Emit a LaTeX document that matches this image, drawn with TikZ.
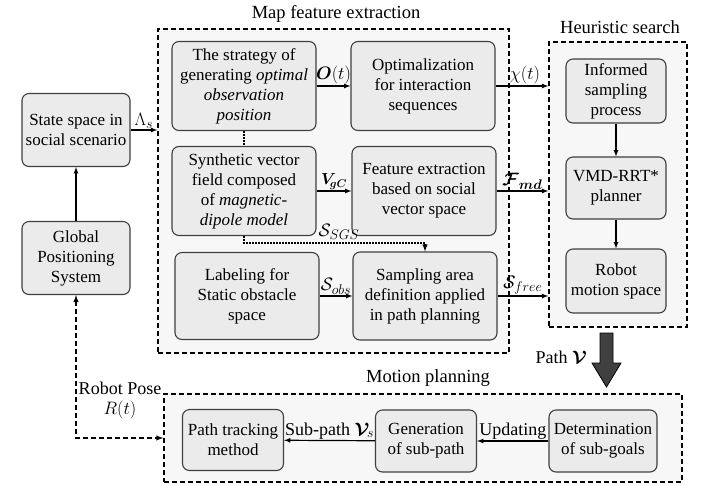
\RequirePackage{fix-cm}
\documentclass[tikz,border=0pt]{standalone}
\usepackage{fontspec}
\setmainfont{Liberation Serif}
\usepackage{amsmath}
\usepackage{amssymb}
\usepackage{bm}
\DeclareMathSizes{18}{18}{14}{11}
\usetikzlibrary{arrows, calc, positioning}

\tikzset{
  block/.style={draw=black!75, line width=1.1pt, rounded corners=7pt, fill=black!8,
    align=center, inner sep=2pt, font=\fontsize{17}{20}\selectfont},
  big/.style={block, minimum width=144pt, minimum height=89pt},
  mid/.style={block, minimum width=108pt, minimum height=73pt},
  small/.style={block, minimum width=100pt, minimum height=64pt},
  group/.style={draw=black, line width=1.4pt, dash pattern=on 5pt off 3pt, fill=black!3},
  heading/.style={font=\fontsize{18.5}{22}\selectfont},
  tag/.style={font=\fontsize{18}{20}\selectfont, inner sep=1pt},
  flow/.style={->, >=latex, line width=1.2pt},
}

\begin{document}
\begin{tikzpicture}[x=1pt, y=-1pt]
  \useasboundingbox (0,0) rectangle (706,485);

  % dashed groups
  \node[group, minimum width=351pt, minimum height=324pt] (map) at (333.5,191) {};
  \node[group, minimum width=138pt, minimum height=285pt] (heur) at (618,184.5) {};
  \node[group, minimum width=518pt, minimum height=88pt] (motion) at (423,438) {};
  \node[heading] (maptitle) at (336,14) {Map feature extraction};
  \node[heading] (heurtitle) at (620,27) {Heuristic search};
  \node[heading] (motiontitle) at (428,378) {Motion planning};

  % left column
  \node[mid] (state) at (76,130) {State space in\\social scenario};
  \node[mid] (gps) at (76,258) {Global\\Positioning\\System};

  % map feature extraction
  \node[big] (strat) at (244,86) {The strategy of\\generating \textit{optimal}\\\textit{observation}\\\textit{position}};
  \node[big] (synth) at (244,191) {Synthetic vector\\field composed\\of \textit{magnetic-}\\\textit{dipole model}};
  \node[big, minimum height=87pt] (label) at (247,296) {Labeling for\\Static obstacle\\space};
  \node[big] (optim) at (423,86) {Optimalization\\for interaction\\sequences};
  \node[big] (feat) at (424,191) {Feature extraction\\based on social\\vector space};
  \node[big, minimum height=88pt] (samp) at (425,296) {Sampling area\\definition applied\\in path planning};

  % heuristic search
  \node[small] (informed) at (616,91) {Informed\\sampling\\process};
  \node[small, minimum height=62pt] (vmd) at (616,188) {VMD-RRT*\\planner};
  \node[small] (robot) at (616,281) {Robot\\motion space};

  % motion planning
  \node[small, minimum width=101pt, minimum height=61pt] (track) at (233,440) {Path tracking\\method};
  \node[small, minimum width=101pt, minimum height=62pt] (gen) at (426,441) {Generation\\of sub-path};
  \node[small, minimum width=108pt, minimum height=62pt] (determ) at (603,441) {Determination\\of sub-goals};

  \draw
  (gps) edge[flow] (state)
  (state.east) edge[flow] node[above, tag]{$\Lambda_s$} (state.east -| map.west)
  (strat) edge[flow] node[above, tag]{$\bm{O}(t)$} (optim)
  (synth) edge[flow] node[above, tag, inner sep=0pt, yshift=1pt,
    font=\fontsize{16}{18}\selectfont]{$\bm{V}_{\!\bm{gC}}$} (feat)
  (label) edge[flow] node[above, tag]{$\mathcal{S}_{obs}$} (samp)
  (optim.east) edge[flow] node[above, tag, xshift=3pt]{$\chi(t)$} (optim.east -| heur.west)
  (feat.east) edge[flow] node[above, tag]{$\bm{\mathcal{F}}_{\bm{md}}$} (feat.east -| heur.west)
  (samp.east) edge[flow] node[above, tag]{$\mathcal{S}_{free}$} (samp.east -| heur.west)
  (informed) edge[flow] (vmd)
  (vmd) edge[flow] (robot)
  (determ) edge[flow] node[above, tag]{Updating} (gen)
  (gen) edge[flow] node[above, tag]{Sub-path $\bm{\mathcal{V}}_{\!s}$} (track);

  % dotted links
  \draw[line width=1.4pt, dash pattern=on 1.5pt off 1.5pt] (strat) -- (synth);
  \draw[flow, dash pattern=on 1.5pt off 1.5pt, line width=1.4pt]
    (synth.south) -- ++(0,7) -| (samp.north);
  \node[tag] (sgs) at (339,232) {$\mathcal{S}_{SGS}$};

  % robot pose feedback
  \draw[<->, >=latex, line width=1.4pt, dash pattern=on 5pt off 3pt]
    (gps.south) |- (motion.west);
  \node[tag, align=center] (pose) at (120,400) {Robot Pose\\$R(t)$};

  % path to motion planning
  \draw[fill=black!75, line width=0.8pt]
    (600,333) -- (613,333) -- (613,363) -- (621,363) -- (606.5,387)
    -- (592,363) -- (600,363) -- cycle;
  \node[tag, anchor=east] (path) at (588,357) {Path $\bm{\mathcal{V}}$};
\end{tikzpicture}
\end{document}
